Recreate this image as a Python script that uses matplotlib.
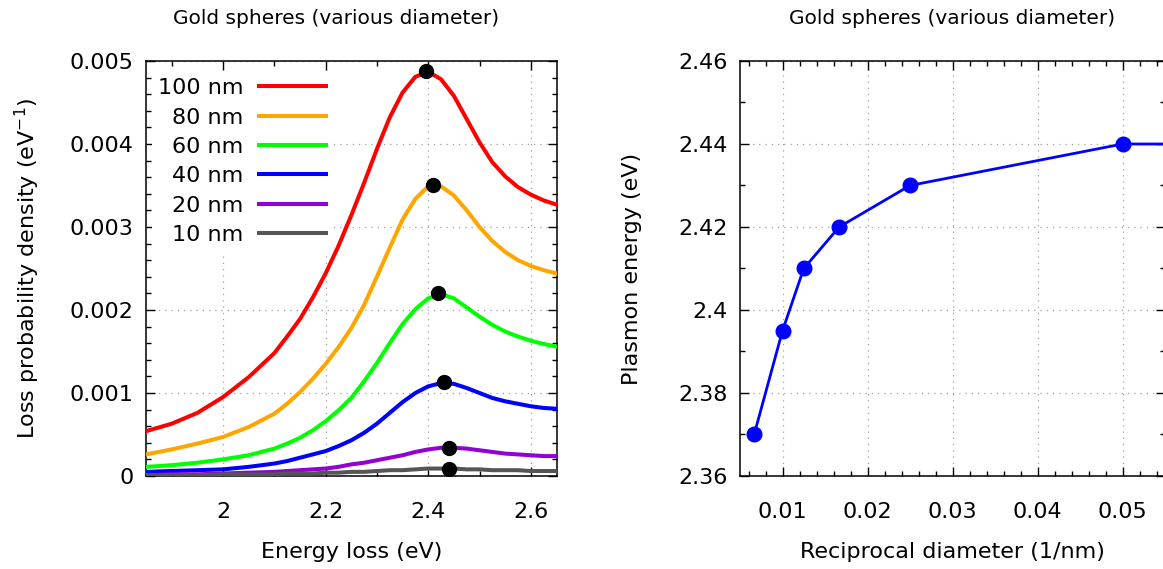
import matplotlib
matplotlib.use('Agg')
import matplotlib.pyplot as plt
from matplotlib.ticker import MultipleLocator, FormatStrFormatter

# energy loss grid (eV) and loss probability density for each diameter
energy = [1.85, 1.90, 1.95, 2.00, 2.05, 2.10, 2.125, 2.15, 2.175, 2.20, 2.225, 2.25, 2.275, 2.30,
          2.325, 2.35, 2.375, 2.40, 2.425, 2.45, 2.475, 2.50, 2.525, 2.55, 2.575, 2.60, 2.625, 2.65]
loss_100 = [0.00054, 0.00063, 0.00076, 0.00095, 0.00119, 0.00148, 0.00168, 0.00189, 0.00215, 0.00244,
            0.00277, 0.00314, 0.00353, 0.00394, 0.00432, 0.00462, 0.00481, 0.00487, 0.00478, 0.00458,
            0.00430, 0.00402, 0.00378, 0.00361, 0.00348, 0.00339, 0.00332, 0.00327]
loss_80 = [0.00026, 0.00032, 0.00039, 0.00047, 0.00059, 0.00075, 0.00087, 0.00101, 0.00117, 0.00135,
           0.00155, 0.00178, 0.00206, 0.00240, 0.00275, 0.00309, 0.00334, 0.00349, 0.00349, 0.00338,
           0.00320, 0.00300, 0.00283, 0.00270, 0.00260, 0.00253, 0.00248, 0.00244]
loss_60 = [0.00011, 0.00013, 0.00016, 0.00020, 0.00025, 0.00033, 0.00039, 0.00046, 0.00055, 0.00066,
           0.00079, 0.00094, 0.00114, 0.00136, 0.00160, 0.00183, 0.00201, 0.00214, 0.00219, 0.00214,
           0.00203, 0.00192, 0.00182, 0.00174, 0.00168, 0.00163, 0.00159, 0.00156]
loss_40 = [0.00005, 0.00006, 0.00007, 0.00008, 0.00011, 0.00015, 0.00018, 0.00022, 0.00026, 0.00030,
           0.00036, 0.00043, 0.00052, 0.00063, 0.00076, 0.00089, 0.00100, 0.00108, 0.00112, 0.00111,
           0.00106, 0.00100, 0.00094, 0.00090, 0.00087, 0.00084, 0.00082, 0.00081]
loss_20 = [0.00001, 0.00002, 0.00002, 0.00003, 0.00004, 0.00005, 0.00006, 0.00007, 0.00008, 0.00009,
           0.00011, 0.00014, 0.00016, 0.00019, 0.00022, 0.00025, 0.00029, 0.00032, 0.00034, 0.00034,
           0.00033, 0.00031, 0.00029, 0.00027, 0.00026, 0.00025, 0.00024, 0.00024]
loss_10 = [0.00001, 0.00001, 0.00001, 0.00002, 0.00002, 0.00002, 0.00003, 0.00003, 0.00003, 0.00004,
           0.00004, 0.00005, 0.00005, 0.00006, 0.00007, 0.00007, 0.00008, 0.00009, 0.00009, 0.00009,
           0.00008, 0.00008, 0.00007, 0.00007, 0.00007, 0.00006, 0.00006, 0.00006]

labels = ['100 nm', '80 nm', '60 nm', '40 nm', '20 nm', '10 nm']
colors = ['#ff0000', '#ffa500', '#00ff00', '#0000ff', '#9400d3', '#555555']

# peak positions (black dots)
peak_e = [2.395, 2.409, 2.419, 2.430, 2.440, 2.440]
peak_v = [0.00488, 0.00351, 0.00220, 0.00113, 0.00034, 0.000085]

# plasmon energy vs diameter
diameter = [150, 100, 80, 60, 40, 20, 10]
plasmon = [2.37, 2.395, 2.41, 2.42, 2.43, 2.44, 2.44]

fs = 16
plt.rcParams['font.family'] = 'DejaVu Sans'
plt.rcParams['font.size'] = fs
plt.rcParams['mathtext.fontset'] = 'dejavusans'

fig = plt.figure(figsize=(11.63, 5.69), dpi=100)
ax1 = fig.add_axes([146 / 1163, 1 - 476 / 569, 410.5 / 1163, 415 / 569])
ax2 = fig.add_axes([740 / 1163, 1 - 476 / 569, 425 / 1163, 415 / 569])


def style_axes(ax):
    ax.tick_params(which='both', direction='in', top=True, right=True, width=1.0, colors='black')
    ax.tick_params(which='major', length=6.5)
    ax.tick_params(which='minor', length=3.5)
    ax.tick_params(axis='x', which='major', pad=19)
    ax.tick_params(axis='y', which='major', pad=9)
    ax.grid(True, which='major', color='#a0a0a0', linestyle=(0, (1, 4)), linewidth=0.9)
    ax.set_axisbelow(True)
    for s in ax.spines.values():
        s.set_linewidth(1.1)


series = [loss_100, loss_80, loss_60, loss_40, loss_20, loss_10]
for vals, lab, col in zip(series, labels, colors):
    ax1.plot(energy, vals, color=col, linewidth=2.9, label=lab, zorder=3, solid_joinstyle='round')
ax1.plot(peak_e, peak_v, linestyle='none', marker='o', markersize=10, color='black', zorder=4)

ax1.set_xlim(1.85, 2.65)
ax1.set_ylim(0, 0.005)
ax1.xaxis.set_major_locator(MultipleLocator(0.2))
ax1.xaxis.set_minor_locator(MultipleLocator(0.1))
ax1.yaxis.set_major_locator(MultipleLocator(0.001))
ax1.yaxis.set_minor_locator(MultipleLocator(0.0002))
ax1.xaxis.set_major_formatter(FormatStrFormatter('%g'))
ax1.yaxis.set_major_formatter(FormatStrFormatter('%g'))
style_axes(ax1)
ax1.set_xlabel('Energy loss (eV)', labelpad=14)
ax1.set_ylabel('Loss probability density (eV$^{-1}$)', labelpad=20)

leg = ax1.legend(loc='upper left', bbox_to_anchor=(0, 1 - 5 / 415), markerfirst=False,
                 frameon=True, fancybox=False, handlelength=3.0, handletextpad=0.7,
                 labelspacing=0.42, borderaxespad=0.25, borderpad=0.3)
leg.get_frame().set_edgecolor('none')
leg.get_frame().set_facecolor('white')
leg.get_frame().set_alpha(1)

recip = [1.0 / d for d in diameter]
ax2.plot(recip, plasmon, color='#0000ff', linewidth=2.0, marker='o', markersize=10.5, zorder=3)
ax2.set_xlim(0.005, 0.055)
ax2.set_ylim(2.36, 2.46)
ax2.xaxis.set_major_locator(MultipleLocator(0.01))
ax2.xaxis.set_minor_locator(MultipleLocator(0.002))
ax2.yaxis.set_major_locator(MultipleLocator(0.02))
ax2.yaxis.set_minor_locator(MultipleLocator(0.01))
ax2.xaxis.set_major_formatter(FormatStrFormatter('%g'))
ax2.yaxis.set_major_formatter(FormatStrFormatter('%g'))
style_axes(ax2)
ax2.set_xlabel('Reciprocal diameter (1/nm)', labelpad=14)
ax2.set_ylabel('Plasmon energy (eV)', labelpad=26)

fig.text(336 / 1163, 1 - 18 / 569, 'Gold spheres (various diameter)', ha='center', va='center', fontsize=14.5)
fig.text(952 / 1163, 1 - 18 / 569, 'Gold spheres (various diameter)', ha='center', va='center', fontsize=14.5)

fig.savefig('out.png', dpi=100)
